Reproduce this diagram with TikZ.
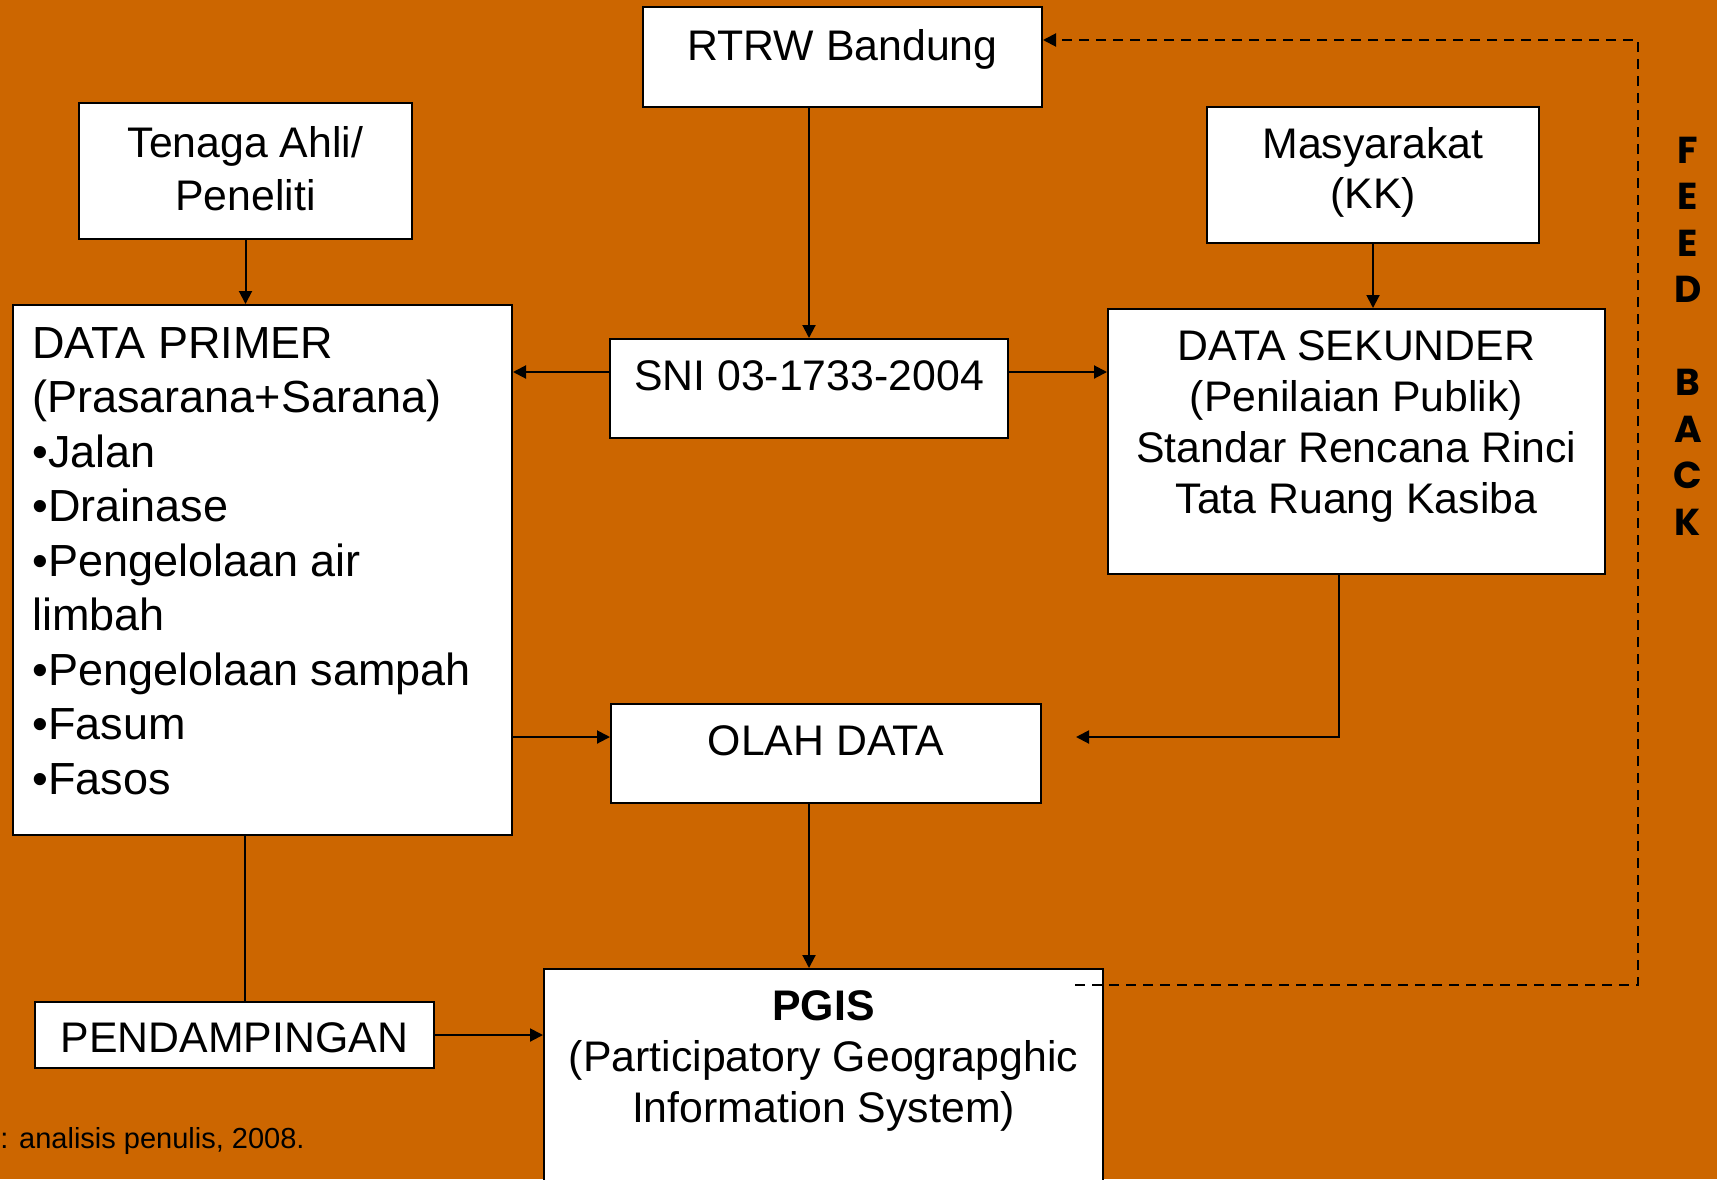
\documentclass[tikz,border=0pt]{standalone}
\usepackage{fontspec}
\setmainfont{Liberation Sans}
\newfontfamily\gothicfont{Poppins}
\usetikzlibrary{arrows.meta,fit}
\definecolor{bgorange}{RGB}{204,102,0}
\begin{document}
\begin{tikzpicture}[x=0.5pt,y=-0.5pt,
  box/.style={draw=black,fill=white,line width=1pt,inner sep=0pt,rectangle},
  txt/.style={inner sep=0pt,font=\fontsize{21.4}{27.25}\selectfont},
  arr/.style={line width=1pt,-{Triangle[length=6.5pt,width=6.5pt]}},
  plain/.style={line width=1pt},
  fbline/.style={line width=1pt,dash pattern=on 5pt off 3.5pt,-{Triangle[length=6.5pt,width=6.5pt]}}]
\clip (0,0) rectangle (1717,1179);
\fill[bgorange] (0,0) rectangle (1717,1179);

% boxes
\node[box,fit={(643,7)(1042,107)}] (rtrw) {};
\node[box,fit={(79,103)(412,239)}] (tenaga) {};
\node[box,fit={(1207,107)(1539,243)}] (masy) {};
\node[box,fit={(13,305)(512,835)}] (primer) {};
\node[box,fit={(610,339)(1008,438)}] (sni) {};
\node[box,fit={(1108,309)(1605,574)}] (sekunder) {};
\node[box,fit={(611,704)(1041,803)}] (olah) {};
\node[box,fit={(544,969)(1103,1190)}] (pgis) {};
\node[box,fit={(35,1002)(434,1068)}] (pend) {};

% texts (base anchor = baseline of the last line)
\node[txt,anchor=base] (trtrw) at (842.5,60) {RTRW Bandung};
\node[txt,anchor=base,align=center,font=\fontsize{21.4}{26.5}\selectfont] (ttenaga) at (245.5,210) {Tenaga Ahli/\\Peneliti};
\node[txt,anchor=base,align=center,font=\fontsize{21.4}{25}\selectfont] (tmasy) at (1373,208) {Masyarakat\\(KK)};
\node[txt,anchor=base west,align=left,font=\fontsize{22.5}{27.25}\selectfont] (tprimer) at (32,794) {DATA PRIMER\\(Prasarana+Sarana)\\•Jalan\\•Drainase\\•Pengelolaan air\\limbah\\•Pengelolaan sampah\\•Fasum\\•Fasos};
\node[txt,anchor=base] (tsni) at (809,390) {SNI 03-1733-2004};
\node[txt,anchor=base,align=center,font=\fontsize{21.4}{25.5}\selectfont] (tsekunder) at (1356.5,513) {DATA SEKUNDER\\(Penilaian Publik)\\Standar Rencana Rinci\\Tata Ruang Kasiba};
\node[txt,anchor=base] (tolah) at (826,755) {OLAH DATA};
\node[txt,anchor=base,align=center,font=\fontsize{21.4}{25.5}\selectfont] (tpgis) at (823.5,1122) {\textbf{PGIS}\\(Participatory Geograpghic\\Information System)};
\node[txt,anchor=base] (tpend) at (234.5,1052) {PENDAMPINGAN};
\node[inner sep=0pt,anchor=base west,font=\fontsize{14.5}{18}\selectfont] (source) at (0,1148) {: analisis penulis, 2008.};
\node[inner sep=0pt,anchor=base,align=center,font=\gothicfont\bfseries\fontsize{18.75}{23.25}\selectfont] (feedback) at (1688,535) {F\\E\\E\\D\\[23.25pt]B\\A\\C\\K};

% connectors
\coordinate (olahin) at (1076,737);
\coordinate (fbstart) at (1075,985);
\coordinate (fbcorner) at (1638,40);
\draw[arr] (rtrw.south -| sni.north) -- (sni.north);
\draw[arr] (tenaga.south) -- (tenaga.south |- primer.north);
\draw[arr] (masy.south) -- (masy.south |- sekunder.north);
\draw[arr] (sni.west |- 0,372) -- (primer.east |- 0,372);
\draw[arr] (sni.east |- 0,372) -- (sekunder.west |- 0,372);
\draw[arr] (primer.east |- 0,737) -- (olah.west |- 0,737);
\draw[arr] (sekunder.south -| 1339,0) |- (olahin);
\draw[arr] (olah.south -| 809,0) -- (pgis.north -| 809,0);
\draw[plain] (primer.south -| 245,0) -- (pend.north -| 245,0);
\draw[arr] (pend.east) -- (pend.east -| pgis.west);
\draw[fbline] (fbstart) -| (fbcorner) -- (rtrw.east |- fbcorner);
\end{tikzpicture}
\end{document}
